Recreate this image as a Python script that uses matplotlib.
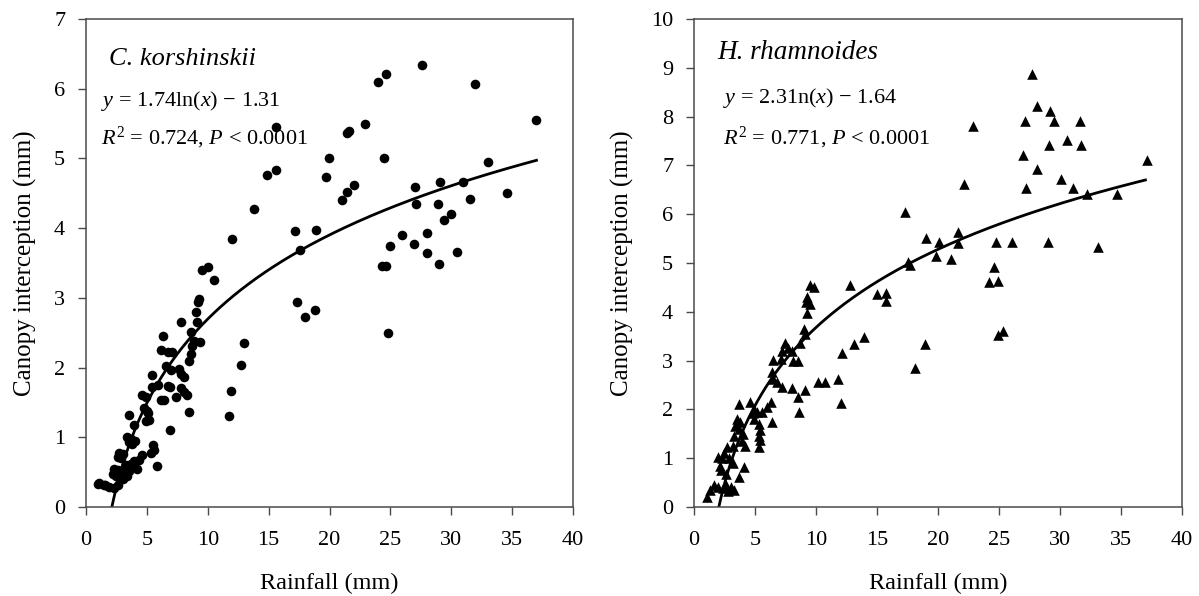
import numpy as np
import matplotlib
matplotlib.use("Agg")
import matplotlib.pyplot as plt

plt.rcParams['font.family'] = ['Liberation Serif', 'DejaVu Serif']
plt.rcParams['mathtext.fontset'] = 'custom'
plt.rcParams['mathtext.rm'] = 'Liberation Serif'
plt.rcParams['mathtext.it'] = 'Liberation Serif:italic'

# ---- C. korshinskii (left panel) ----
ck_x = [24.6, 24.0, 15.6, 22.9, 21.6, 21.45, 19.95, 24.45, 14.9, 15.6, 19.7, 22.0, 21.45, 21.0,
        13.8, 17.2, 18.9, 11.97, 17.6, 25.0, 24.6, 17.35, 18.8, 18.0, 24.8, 13.0,
        27.6, 31.97, 36.97, 32.98, 27.0, 29.1, 31.0, 27.1, 28.9, 31.5, 34.6, 29.97, 29.4,
        25.96, 28.0, 26.9, 28.0, 30.5, 28.96, 24.3,
        9.5, 10.05, 10.5, 9.2, 9.25, 9.0, 7.8, 9.1, 6.3, 8.6, 8.9, 9.4, 8.7, 12.7, 11.9, 11.75,
        6.15, 6.7, 7.1, 8.6, 8.5, 6.56, 6.97, 7.65, 7.8, 8.06, 5.38, 5.46, 5.88, 6.76, 6.9,
        4.64, 4.92, 6.15, 6.4, 7.38, 7.79, 8.06, 8.33, 8.47, 4.8, 5.0, 5.1, 5.2, 4.9, 3.55,
        3.96, 6.89, 3.4, 3.7, 3.5, 3.8, 4.0, 2.7, 3.0, 2.6, 2.9, 5.47, 5.6, 5.33, 5.8, 4.6,
        4.37, 3.96, 3.7, 3.4, 3.3, 3.5, 3.2, 3.4, 2.3, 2.6, 2.2, 2.5, 2.9, 1.09, 1.5, 1.9,
        2.3, 0.95, 1.6, 2.6, 3.0, 4.2]
ck_y = [6.21, 6.09, 5.45, 5.49, 5.40, 5.36, 5.00, 5.00, 4.76, 4.83, 4.73, 4.62, 4.52, 4.41,
        4.28, 3.96, 3.97, 3.84, 3.69, 3.75, 3.45, 2.94, 2.83, 2.72, 2.49, 2.35,
        6.34, 6.07, 5.55, 4.95, 4.59, 4.66, 4.66, 4.34, 4.34, 4.42, 4.50, 4.20, 4.12,
        3.90, 3.93, 3.77, 3.65, 3.66, 3.48, 3.45,
        3.40, 3.44, 3.26, 2.94, 2.99, 2.80, 2.66, 2.65, 2.46, 2.51, 2.38, 2.36, 2.31, 2.03, 1.67, 1.30,
        2.25, 2.22, 2.22, 2.20, 2.10, 2.02, 1.96, 1.98, 1.91, 1.86, 1.89, 1.72, 1.75, 1.74, 1.72,
        1.60, 1.58, 1.53, 1.54, 1.58, 1.70, 1.65, 1.60, 1.36, 1.42, 1.38, 1.35, 1.25, 1.24, 1.32,
        1.17, 1.11, 1.00, 0.98, 0.93, 0.91, 0.95, 0.78, 0.76, 0.72, 0.70, 0.89, 0.82, 0.77, 0.59, 0.75,
        0.67, 0.66, 0.61, 0.56, 0.60, 0.52, 0.50, 0.45, 0.55, 0.53, 0.48, 0.44, 0.44, 0.34, 0.31, 0.29,
        0.27, 0.33, 0.32, 0.32, 0.40, 0.55]
ck_a, ck_b = 1.74, -1.31

# ---- H. rhamnoides (right panel) ----
hr_x = [27.7, 28.1, 29.2, 27.1, 29.5, 31.6, 29.1, 30.6, 31.7, 27.0, 37.1, 28.1, 30.1, 27.2, 31.1,
        32.2, 34.7, 24.75, 26.1, 29.0, 33.1, 24.6, 24.9, 24.2, 25.3, 24.9, 22.9,
        22.1, 17.3, 19.0, 20.05, 21.6, 21.6, 19.8, 21.1, 17.5, 17.7, 12.8, 15.0, 15.7, 15.7,
        13.9, 13.1, 12.1, 18.9, 18.1, 11.8, 10.7, 10.2, 12.05,
        9.5, 9.8, 9.3, 9.2, 9.5, 9.26, 9.0, 9.1, 7.5, 8.7, 7.2, 7.7, 8.0, 6.5, 7.1, 8.1, 8.5,
        6.4, 6.5, 6.8, 7.2, 8.0, 8.5, 9.1, 8.6, 3.66, 4.6, 4.9, 4.8, 5.2, 5.6, 6.0, 6.3, 6.4,
        4.9, 5.3, 5.4, 5.3, 5.4, 5.3, 3.5, 3.8, 3.4, 3.7, 4.0, 3.3, 3.2, 3.9, 4.2, 2.7, 2.5,
        2.9, 3.2, 2.3, 2.0, 2.1, 4.07, 3.66, 1.6, 2.0, 2.6, 3.0, 3.3, 2.8, 2.4, 1.07, 2.2, 2.6, 1.3]
hr_y = [8.87, 8.22, 8.12, 7.91, 7.91, 7.91, 7.42, 7.52, 7.42, 7.22, 7.12, 6.93, 6.73, 6.53, 6.53,
        6.41, 6.41, 5.43, 5.43, 5.43, 5.32, 4.91, 4.63, 4.62, 3.60, 3.53, 7.80,
        6.62, 6.04, 5.51, 5.43, 5.63, 5.40, 5.15, 5.08, 5.02, 4.95, 4.54, 4.36, 4.39, 4.23,
        3.48, 3.35, 3.16, 3.35, 2.84, 2.63, 2.56, 2.56, 2.13,
        4.55, 4.50, 4.30, 4.20, 4.15, 3.97, 3.65, 3.55, 3.36, 3.36, 3.20, 3.25, 3.20, 3.02, 3.04, 2.99, 3.00,
        2.77, 2.63, 2.56, 2.46, 2.43, 2.26, 2.39, 1.94, 2.12, 2.15, 2.00, 1.92, 1.95, 1.94, 2.05, 2.15, 1.74,
        1.80, 1.70, 1.57, 1.45, 1.37, 1.23, 1.81, 1.75, 1.65, 1.60, 1.50, 1.45, 1.25, 1.35, 1.25, 1.23, 1.10,
        1.00, 0.90, 1.00, 1.03, 0.85, 0.82, 0.62, 0.45, 0.42, 0.45, 0.42, 0.35, 0.33, 0.38, 0.21, 0.75, 0.68, 0.35]
hr_a, hr_b = 2.31, -1.64

x_ticks = [0, 5, 10, 15, 20, 25, 30, 35, 40]

fig = plt.figure(figsize=(11.99, 5.96), dpi=100)
axL = fig.add_axes([86/1199, 89/596, 487/1199, 488/596])
axR = fig.add_axes([694/1199, 89/596, 488/1199, 488/596])

spine_col = '#4a4a4a'

def style(ax, ymax):
    ax.set_xlim(0, 40)
    ax.set_ylim(0, ymax)
    ax.set_xticks(x_ticks)
    ax.set_yticks(list(range(0, ymax + 1)))
    ax.tick_params(direction='out', length=6, width=1, color=spine_col, labelsize=16)
    ax.tick_params(axis='x', pad=11)
    ax.tick_params(axis='y', pad=9)
    for s in ax.spines.values():
        s.set_color(spine_col)
        s.set_linewidth(1.1)
    ax.set_xlabel('Rainfall (mm)', fontsize=17.5, labelpad=17)
    ax.set_ylabel('Canopy interception (mm)', fontsize=18, labelpad=12)

# Left
axL.scatter(ck_x, ck_y, s=48, c='black', marker='o', linewidths=0, zorder=3)
xs = np.linspace(np.exp(-ck_b / ck_a), 37, 200)
axL.plot(xs, ck_a * np.log(xs) + ck_b, color='black', lw=2, zorder=2)
style(axL, 7)
axL.text(0.047, 0.918, 'C. korshinskii', transform=axL.transAxes, fontsize=19,
         style='italic', va='center', ha='left')
axL.text(0.031, 0.832, r'$y$ = 1.74ln($x$) − 1.31', transform=axL.transAxes,
         fontsize=16, va='center', ha='left')
axL.text(0.031, 0.757, r'$R^{\mathrm{2}}$ = 0.724, $P$ < 0.0001', transform=axL.transAxes,
         fontsize=16, va='center', ha='left')

# Right
axR.scatter(hr_x, hr_y, s=58, c='black', marker='^', linewidths=0, zorder=3)
xs = np.linspace(np.exp(-hr_b / hr_a), 37, 200)
axR.plot(xs, hr_a * np.log(xs) + hr_b, color='black', lw=2, zorder=2)
style(axR, 10)
axR.text(0.047, 0.932, 'H. rhamnoides', transform=axR.transAxes, fontsize=19.5,
         style='italic', va='center', ha='left')
axR.text(0.06, 0.838, r'$y$ = 2.31n($x$) − 1.64', transform=axR.transAxes,
         fontsize=16, va='center', ha='left')
axR.text(0.06, 0.757, r'$R^{\mathrm{2}}$ = 0.771, $P$ < 0.0001', transform=axR.transAxes,
         fontsize=16, va='center', ha='left')

fig.savefig('out.png', dpi=100)
